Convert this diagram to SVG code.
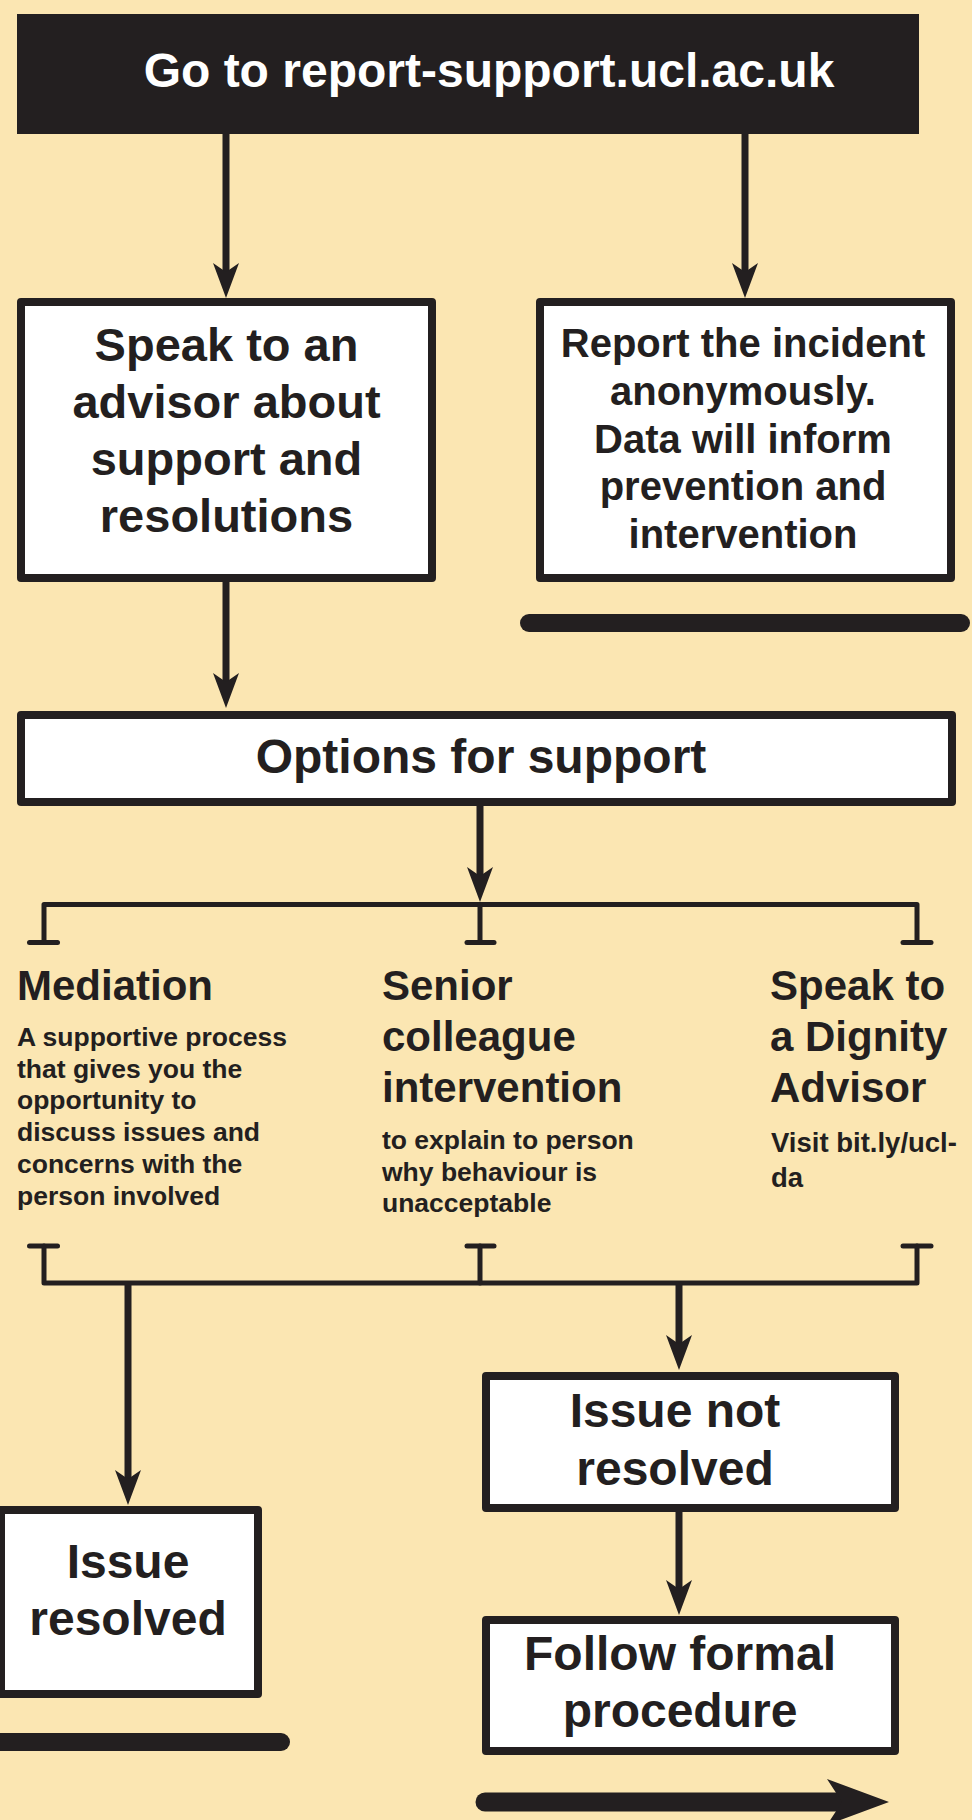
<svg xmlns="http://www.w3.org/2000/svg" width="972" height="1820" viewBox="0 0 972 1820">
<style>
text{font-family:"Liberation Sans",Arial,Helvetica,sans-serif;font-weight:bold;fill:#231F20}
.box{fill:#FFFFFF;stroke:#231F20;stroke-width:8;stroke-linejoin:round}
.c{text-anchor:middle}
.big{font-size:47px}
.mid{font-size:40px}
.h{font-size:42px}
.s{font-size:26.5px}
.conn{fill:none;stroke:#231F20;stroke-width:7}
.br{fill:none;stroke:#231F20;stroke-width:5;stroke-linejoin:round;stroke-linecap:round}
</style>
<defs>
<marker id="ah" viewBox="0 0 35 26" markerWidth="35" markerHeight="26" refX="11" refY="13" orient="auto" markerUnits="userSpaceOnUse">
<path d="M0,0 L35,13 L0,26 L9,13 Z" fill="#231F20"/>
</marker>
</defs>
<rect x="0" y="0" width="972" height="1820" fill="#FBE6B2"/>

<g id="connectors">
<line class="conn" x1="226" y1="134" x2="226" y2="274" marker-end="url(#ah)"/>
<line class="conn" x1="745" y1="134" x2="745" y2="274" marker-end="url(#ah)"/>
<line class="conn" x1="226" y1="582" x2="226" y2="684" marker-end="url(#ah)"/>
<line class="conn" x1="480" y1="806" x2="480" y2="878" marker-end="url(#ah)"/>
<path class="br" d="M44,942 L44,904.5 L917,904.5 L917,942"/>
<line class="br" x1="480" y1="904.5" x2="480" y2="942"/>
<line class="br" x1="29.5" y1="942.5" x2="57.5" y2="942.5"/>
<line class="br" x1="467" y1="942.5" x2="494" y2="942.5"/>
<line class="br" x1="903" y1="942.5" x2="931" y2="942.5"/>
<path class="br" d="M44,1246 L44,1283 L917,1283 L917,1246"/>
<line class="br" x1="480" y1="1246" x2="480" y2="1283"/>
<line class="br" x1="29.5" y1="1246" x2="57.5" y2="1246"/>
<line class="br" x1="467" y1="1246" x2="494" y2="1246"/>
<line class="br" x1="903" y1="1246" x2="931" y2="1246"/>
<line class="conn" x1="128" y1="1283" x2="128" y2="1481" marker-end="url(#ah)"/>
<line class="conn" x1="679" y1="1283" x2="679" y2="1346" marker-end="url(#ah)"/>
<line class="conn" x1="679" y1="1512" x2="679" y2="1591" marker-end="url(#ah)"/>
</g>

<g id="start">
<rect x="17" y="14" width="902" height="120" fill="#231F20"/>
<text class="c" x="489" y="87" font-size="48" style="fill:#FFFFFF">Go to report-support.ucl.ac.uk</text>
</g>

<g id="advisor">
<rect class="box" x="21" y="302" width="411" height="276"/>
<text class="c big" x="226.5" y="361">Speak to an</text>
<text class="c big" x="226.5" y="418">advisor about</text>
<text class="c big" x="226.5" y="475">support and</text>
<text class="c big" x="226.5" y="532">resolutions</text>
</g>

<g id="anonymous">
<rect class="box" x="540" y="302" width="411" height="276"/>
<text class="c mid" x="743" y="357">Report the incident</text>
<text class="c mid" x="743" y="405">anonymously.</text>
<text class="c mid" x="743" y="453">Data will inform</text>
<text class="c mid" x="743" y="500">prevention and</text>
<text class="c mid" x="743" y="548">intervention</text>
</g>

<g id="anon-bar">
<line x1="529" y1="623" x2="961" y2="623" stroke="#231F20" stroke-width="18" stroke-linecap="round"/>
</g>

<g id="options">
<rect class="box" x="21" y="715" width="931" height="87"/>
<text class="c" x="481" y="773" font-size="48">Options for support</text>
</g>

<g id="mediation">
<text class="h" x="17" y="1000">Mediation</text>
<text class="s" x="17" y="1046">A supportive process</text>
<text class="s" x="17" y="1078">that gives you the</text>
<text class="s" x="17" y="1109">opportunity to</text>
<text class="s" x="17" y="1141">discuss issues and</text>
<text class="s" x="17" y="1173">concerns with the</text>
<text class="s" x="17" y="1205">person involved</text>
</g>

<g id="senior">
<text class="h" x="382" y="1000">Senior</text>
<text class="h" x="382" y="1051">colleague</text>
<text class="h" x="382" y="1102">intervention</text>
<text class="s" x="382" y="1149">to explain to person</text>
<text class="s" x="382" y="1181">why behaviour is</text>
<text class="s" x="382" y="1212">unacceptable</text>
</g>

<g id="dignity">
<text class="h" x="770" y="1000">Speak to</text>
<text class="h" x="770" y="1051">a Dignity</text>
<text class="h" x="770" y="1102">Advisor</text>
<text x="771" y="1152" font-size="27.5">Visit bit.ly/ucl-</text>
<text x="771" y="1187" font-size="27.5">da</text>
</g>

<g id="not-resolved">
<rect class="box" x="486" y="1376" width="409" height="132"/>
<text class="c" x="675" y="1427" font-size="48">Issue not</text>
<text class="c" x="675" y="1485" font-size="48">resolved</text>
</g>

<g id="resolved">
<rect class="box" x="1" y="1510" width="257" height="184"/>
<text class="c" x="128" y="1578" font-size="48">Issue</text>
<text class="c" x="128" y="1635" font-size="48">resolved</text>
</g>

<g id="resolved-bar">
<line x1="-10" y1="1742" x2="281" y2="1742" stroke="#231F20" stroke-width="18" stroke-linecap="round"/>
</g>

<g id="formal">
<rect class="box" x="486" y="1620" width="409" height="131"/>
<text class="c" x="680" y="1670" font-size="48">Follow formal</text>
<text class="c" x="680" y="1727" font-size="48">procedure</text>
</g>

<g id="formal-arrow">
<line x1="485" y1="1802" x2="840" y2="1802" stroke="#231F20" stroke-width="19" stroke-linecap="round"/>
<path d="M827,1779 L889,1802 L827,1825 L842,1802 Z" fill="#231F20"/>
</g>
</svg>
